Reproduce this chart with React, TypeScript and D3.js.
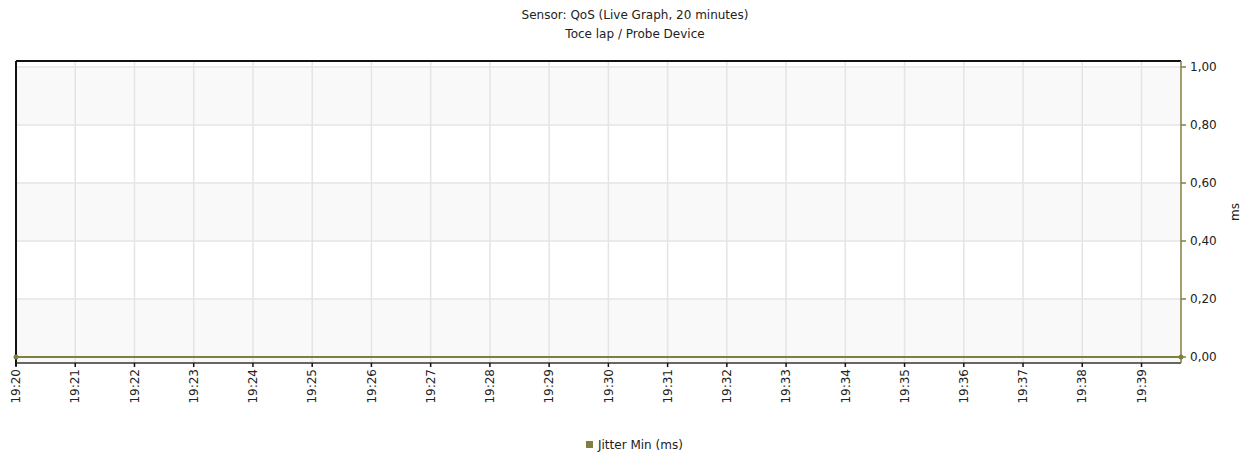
import React from 'react';
import * as d3 from 'd3';

// chart data
const titleLines = ['Sensor: QoS (Live Graph, 20 minutes)', 'Toce lap / Probe Device'];
const seriesName = 'Jitter Min (ms)';
const yAxisLabel = 'ms';
const sampleTimes = ['19:20:00', '19:25:00', '19:30:00', '19:35:00', '19:39:40'];
const jitterMin = [0, 0, 0, 0, 0];
const yTicks = [0, 0.2, 0.4, 0.6, 0.8, 1.0];
const xTickLabels = [
  '19:20', '19:21', '19:22', '19:23', '19:24', '19:25', '19:26', '19:27', '19:28', '19:29',
  '19:30', '19:31', '19:32', '19:33', '19:34', '19:35', '19:36', '19:37', '19:38', '19:39',
];

const W = 1242;
const H = 457;
const plot = { left: 16, right: 1181, top: 61, bottom: 363 };
const olive = '#7f7f3f';
const font = 'Tahoma, "DejaVu Sans", Verdana, sans-serif';

const parse = d3.timeParse('%H:%M:%S');
const parseTick = d3.timeParse('%H:%M');

export default function App() {
  const x = d3.scaleTime()
    .domain([parse('19:20:00')!, parse('19:39:40')!])
    .range([plot.left, plot.right]);
  const y = d3.scaleLinear().domain([-0.0207, 1.0207]).range([plot.bottom, plot.top]);

  const points = sampleTimes.map((t, i) => ({ t: parse(t)!, v: jitterMin[i] }));
  const line = d3.line<{ t: Date; v: number }>()
    .x((d) => x(d.t))
    .y((d) => y(d.v));

  const fmt = (v: number) => v.toFixed(2).replace('.', ',');
  const first = points[0];
  const last = points[points.length - 1];

  return (
    <svg width={W} height={H} style={{ position: 'absolute', left: 0, top: 0, background: '#fff' }}>
      {/* title */}
      {titleLines.map((t, i) => (
        <text key={t} x={635} y={19 + i * 19} textAnchor="middle" fontFamily={font} fontSize={12} fill="#222">
          {t}
        </text>
      ))}

      {/* bands */}
      {yTicks.slice(0, -1).map((v, i) => (
        i % 2 === 0 ? (
          <rect key={'b' + v} x={plot.left} width={plot.right - plot.left}
            y={y(yTicks[i + 1])} height={y(v) - y(yTicks[i + 1])} fill="#f9f9f9" />
        ) : null
      ))}
      <rect x={plot.left} width={plot.right - plot.left} y={y(0)} height={plot.bottom - y(0)} fill="#f9f9f9" />

      {/* grid */}
      {yTicks.map((v) => (
        <line key={'gy' + v} x1={plot.left} x2={plot.right} y1={y(v)} y2={y(v)} stroke="#e4e4e4" strokeWidth={1.5} />
      ))}
      {xTickLabels.map((l) => (
        <line key={'gx' + l} x1={x(parseTick(l)!)} x2={x(parseTick(l)!)} y1={plot.top} y2={plot.bottom}
          stroke="#e4e4e4" strokeWidth={1.5} />
      ))}

      {/* frame */}
      <line x1={plot.left} x2={plot.right} y1={plot.top} y2={plot.top} stroke="#111" strokeWidth={2} />
      <line x1={plot.left} x2={plot.left} y1={plot.top} y2={plot.bottom + 3} stroke="#111" strokeWidth={2} />
      <line x1={plot.left} x2={plot.right} y1={plot.bottom} y2={plot.bottom} stroke="#333" strokeWidth={1.5} />
      <line x1={plot.right} x2={plot.right} y1={plot.top} y2={plot.bottom} stroke={olive} strokeWidth={1.5} />

      {/* series */}
      <path d={line(points) ?? ''} fill="none" stroke={olive} strokeWidth={2} />
      {[first, last].map((d, i) => (
        <circle key={'m' + i} cx={x(d.t)} cy={y(d.v)} r={2.5} fill={olive} />
      ))}

      {/* y axis right */}
      {yTicks.map((v) => (
        <g key={'yt' + v} transform={`translate(${plot.right},${y(v)})`}>
          <line x1={0} x2={5} stroke={olive} strokeWidth={1.5} />
          <text x={9} dy="0.35em" fontFamily={font} fontSize={12} fill="#222">{fmt(v)}</text>
        </g>
      ))}
      <text transform={`translate(1239,${(plot.top + plot.bottom) / 2}) rotate(-90)`} textAnchor="middle"
        fontFamily={font} fontSize={12} fill="#222">{yAxisLabel}</text>

      {/* x axis */}
      {xTickLabels.map((l) => {
        const px = x(parseTick(l)!);
        return (
          <g key={'xt' + l} transform={`translate(${px},${plot.bottom})`}>
            <line y1={0} y2={4} stroke="#111" strokeWidth={1.5} />
            <text transform="translate(0,6) rotate(-90)" textAnchor="end" dy="0.35em"
              fontFamily={font} fontSize={12} fill="#222">{l}</text>
          </g>
        );
      })}

      {/* legend */}
      <rect x={586} y={441} width={7} height={7} fill={olive} />
      <text x={598} y={449} fontFamily={font} fontSize={12} fill="#222">{seriesName}</text>
    </svg>
  );
}
